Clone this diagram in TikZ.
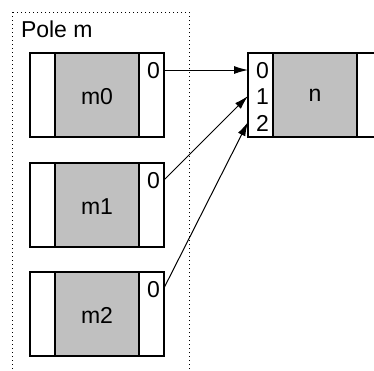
\documentclass[tikz,border=0pt]{standalone}
\usepackage{fontspec}
\setmainfont{Liberation Sans}
\usetikzlibrary{arrows.meta}
\definecolor{cellgray}{RGB}{192,192,192}
\tikzset{
  cell/.style={draw=black, line width=2pt, fill=white, minimum width=134pt,
    minimum height=84pt, inner sep=0pt, outer sep=0pt},
  lbl/.style={inner sep=0pt, outer sep=0pt, font=\fontsize{23}{27}\selectfont},
  link/.style={line width=1pt, -{Latex[length=14pt,width=8pt]}},
  group/.style={draw=black, line width=1pt, dash pattern=on 1pt off 3pt}
}
\begin{document}
\begin{tikzpicture}[x=1pt,y=-1pt]
  \useasboundingbox (0,0) rectangle (374,370);
  \clip (0,0) rectangle (374,370);
  % group frame
  \draw[group] (12,12) rectangle (189,390);
  \node[lbl, anchor=base west] (pole) at (21,37) {Pole m};
  % cells: outer box, grey body, two dividers
  \foreach \name/\cx/\cy in {m0/97/95, m1/97/205, m2/97/314, n/315/95} {
    \node[cell] (\name) at (\cx,\cy) {};
    \fill[cellgray] ([xshift=25pt]\name.north west) rectangle ([xshift=-25pt]\name.south east);
    \draw[line width=2pt] ([xshift=25pt]\name.north west) -- ([xshift=25pt]\name.south west);
    \draw[line width=2pt] ([xshift=-25pt]\name.north east) -- ([xshift=-25pt]\name.south east);
    \draw[line width=2pt] (\name.north west) rectangle (\name.south east);
  }
  % cell names
  \node[lbl] (m0name) at (97,97) {m0};
  \node[lbl] (m1name) at (97,207) {m1};
  \node[lbl] (m2name) at (97,315.5) {m2};
  \node[lbl] (nname) at (315,95.5) {n};
  % slot numbers
  \node[lbl] (m0s) at (153.5,71) {0};
  \node[lbl] (m1s) at (153.5,181) {0};
  \node[lbl] (m2s) at (153.5,290) {0};
  \node[lbl] (ns0) at (262.5,71) {0};
  \node[lbl] (ns1) at (262.5,97) {1};
  \node[lbl] (ns2) at (262.5,123) {2};
  % link end points
  \coordinate (m0out) at (164,70);
  \coordinate (m1out) at (164,180);
  \coordinate (m2out) at (164,288);
  \coordinate (nin0) at (248,70);
  \coordinate (nin1) at (248,96);
  \coordinate (nin2) at (248,122);
  \draw[link] (m0out) -- (nin0);
  \draw[link] (m1out) -- (nin1);
  \draw[link] (m2out) -- (nin2);
\end{tikzpicture}
\end{document}
